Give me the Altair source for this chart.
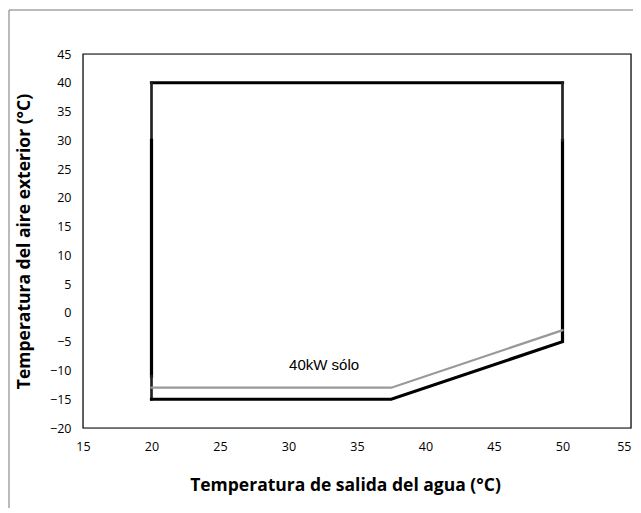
import altair as alt
import pandas as pd

# envelope segments (x = water outlet temp, y = outdoor air temp)
seg_id = ["top", "top",
          "left_up", "left_up",
          "left_mid", "left_mid",
          "left_low", "left_low",
          "bottom", "bottom", "bottom", "bottom",
          "right_up", "right_up",
          "g40", "g40", "g40"]
seg_x = [20, 50,
         20, 20,
         20, 20,
         20, 20,
         20, 37.5, 50, 50,
         50, 50,
         20, 37.5, 50]
seg_y = [40, 40,
         40, 30,
         30, -11,
         -11, -15,
         -15, -15, -5, 30,
         40, 30,
         -13, -13, -3]
seg_kind = ["main", "main",
            "thin", "thin",
            "main", "main",
            "thin", "thin",
            "main", "main", "main", "main",
            "thin", "thin",
            "gray", "gray", "gray"]
seg_order = [0, 1, 0, 1, 0, 1, 0, 1, 0, 1, 2, 3, 0, 1, 0, 1, 2]

x_ticks = [15, 20, 25, 30, 35, 40, 45, 50, 55]
y_ticks = [-20, -15, -10, -5, 0, 5, 10, 15, 20, 25, 30, 35, 40, 45]

label_text = ["40kW sólo"]
label_x = [32.6]
label_y = [-9.0]

df = pd.DataFrame({"seg": seg_id, "x": seg_x, "y": seg_y,
                   "kind": seg_kind, "o": seg_order})
lab = pd.DataFrame({"t": label_text, "x": label_x, "y": label_y})

W, H = 548, 374
FONT = "Open Sans"

xs = alt.Scale(domain=[15, 55], nice=False, zero=False)
ys = alt.Scale(domain=[-20, 45], nice=False, zero=False)

x_axis = alt.Axis(values=x_ticks, title="Temperatura de salida del agua (°C)",
                  grid=False, ticks=False, domain=False, labelPadding=12,
                  labelOverlap=False, labelFlush=False,
                  labelAlign={"expr": "datum.value == 55 ? 'right' : 'center'"},
                  labelFontSize=12.5, labelFont=FONT, labelColor="#000",
                  titleFont="Open Sans", titleFontSize=17.5, titleFontWeight="bold",
                  titleColor="#000", titleX=262, titleY=57, titleAnchor="middle",
                  titleBaseline="middle")
y_axis = alt.Axis(values=y_ticks, title="Temperatura del aire exterior  (°C)",
                  grid=False, ticks=False, domain=False, labelPadding=12,
                  labelOverlap=False, labelFlush=False,
                  labelFontSize=12.5, labelFont=FONT, labelColor="#000",
                  titleFont="Open Sans", titleFontSize=17.5, titleFontWeight="bold",
                  titleColor="#000", titleX=-59, titleY=H / 2,
                  titleAngle=-90, titleBaseline="middle", titleAlign="center")

lines = alt.Chart(df).mark_line(strokeCap="square", strokeJoin="miter").encode(
    x=alt.X("x:Q", scale=xs, axis=x_axis),
    y=alt.Y("y:Q", scale=ys, axis=y_axis),
    detail="seg:N",
    order="o:Q",
    color=alt.Color("kind:N", legend=None,
                    scale=alt.Scale(domain=["main", "thin", "gray"],
                                    range=["#000000", "#222222", "#999999"])),
    strokeWidth=alt.StrokeWidth("kind:N", legend=None,
                                scale=alt.Scale(domain=["main", "thin", "gray"],
                                                range=[3.2, 2.2, 3.0])),
)

text = alt.Chart(lab).mark_text(font="Liberation Sans", fontSize=15, color="#000",
                                align="center", baseline="middle").encode(
    x=alt.X("x:Q", scale=xs, axis=x_axis),
    y=alt.Y("y:Q", scale=ys, axis=y_axis),
    text="t:N")

one = pd.DataFrame({"a": [0]})
frame = alt.Chart(one).mark_rect(
    fill=None, stroke="#777", strokeWidth=1).encode(
    x=alt.value(-74), x2=alt.value(W + 80), y=alt.value(-44), y2=alt.value(H + 140))

plotbox = alt.Chart(one).mark_rect(
    fill=None, stroke="#000", strokeWidth=1.2).encode(
    x=alt.value(0), x2=alt.value(W), y=alt.value(0), y2=alt.value(H))

chart = alt.layer(frame, plotbox, lines, text).properties(
    width=W, height=H,
    padding={"left": 75, "top": 46, "right": 2, "bottom": 80},
    autosize=alt.AutoSizeParams(type="none"),
).configure_view(stroke=None).configure(background="white")

chart.save("out.html", embed_options={"renderer": "svg", "actions": False})
